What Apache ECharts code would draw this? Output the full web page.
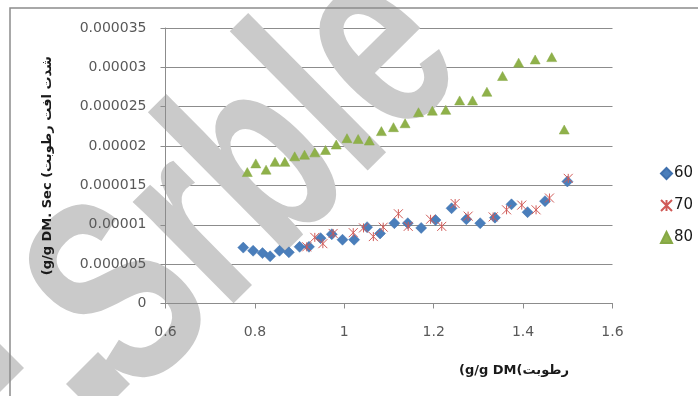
<!DOCTYPE html>
<html>
<head>
<meta charset="utf-8">
<script src="https://cdn.jsdelivr.net/npm/echarts@6/dist/echarts.min.js"></script>
<style>
  html, body { margin: 0; padding: 0; background: #ffffff; }
  #chart { width: 698px; height: 396px; }
</style>
</head>
<body>
<div id="chart"></div>
<script>
// Moisture content (g/g DM) for each drying temperature
const x60 = [0.774, 0.796, 0.817, 0.834, 0.855, 0.876, 0.900, 0.921, 0.947, 0.972, 0.996, 1.022, 1.051, 1.080, 1.112, 1.142, 1.172, 1.204, 1.240, 1.273, 1.304, 1.337, 1.374, 1.410, 1.449, 1.499];
// Drying rate (g/g DM. Sec) at 60
const y60 = [7.1e-6, 6.7e-6, 6.4e-6, 6.0e-6, 6.7e-6, 6.5e-6, 7.2e-6, 7.2e-6, 8.3e-6, 8.8e-6, 8.1e-6, 8.1e-6, 9.7e-6, 8.9e-6, 10.2e-6, 10.2e-6, 9.6e-6, 10.6e-6, 12.1e-6, 10.7e-6, 10.2e-6, 10.9e-6, 12.6e-6, 11.6e-6, 13.0e-6, 15.5e-6];

const x70 = [0.916, 0.934, 0.952, 0.975, 1.020, 1.043, 1.065, 1.087, 1.121, 1.143, 1.193, 1.218, 1.248, 1.277, 1.333, 1.363, 1.397, 1.429, 1.459, 1.501];
const y70 = [7.2e-6, 8.4e-6, 7.6e-6, 8.9e-6, 9.0e-6, 9.6e-6, 8.5e-6, 9.7e-6, 11.4e-6, 9.8e-6, 10.7e-6, 9.8e-6, 12.7e-6, 11.1e-6, 11.0e-6, 11.9e-6, 12.5e-6, 11.9e-6, 13.4e-6, 15.9e-6];

const x80 = [0.783, 0.802, 0.825, 0.845, 0.867, 0.889, 0.911, 0.934, 0.958, 0.982, 1.006, 1.031, 1.056, 1.083, 1.110, 1.136, 1.166, 1.197, 1.227, 1.258, 1.287, 1.319, 1.354, 1.390, 1.427, 1.464, 1.492];
const y80 = [16.7e-6, 17.8e-6, 17.0e-6, 18.0e-6, 18.0e-6, 18.7e-6, 18.9e-6, 19.2e-6, 19.5e-6, 20.2e-6, 21.0e-6, 20.9e-6, 20.7e-6, 21.9e-6, 22.4e-6, 22.9e-6, 24.3e-6, 24.5e-6, 24.6e-6, 25.8e-6, 25.8e-6, 26.9e-6, 28.9e-6, 30.6e-6, 31.0e-6, 31.3e-6, 22.1e-6];

const seriesNames = ['60', '70', '80'];
const yTickLabels = ['0', '0.000005', '0.00001', '0.000015', '0.00002', '0.000025', '0.00003', '0.000035'];
const xTickLabels = ['0.6', '0.8', '1', '1.2', '1.4', '1.6'];

const xTitle = '(g/g DM(' + 'رطوبت';
const yTitle = '(g/g DM. Sec (' + 'شدت افت رطوبت';
const stampText = 'Srble';

const pairs = (xs, ys) => xs.map((v, i) => [v, ys[i]]);

const STAR = 'path://M0,0L10,10M10,0L0,10M5,0L5,10';
const labelColor = '#595959';
const lineColor = '#8c8c8c';
const markGray = '#cacaca';

const X_RANGE = { min: 0.6, max: 1.6, interval: 0.2 };
const Y_RANGE = { min: 0, max: 35e-6, interval: 5e-6 };

// Gray diagonal lettering, drawn above the grid lines and below the axis labels
const lettering = [
  { type: 'text', z: 1, silent: true, x: 250, y: 182, rotation: 0.78, scaleX: 0.92, scaleY: 1.32,
    style: { text: stampText, fontSize: 205, fontFamily: 'Liberation Sans', fontWeight: 'bold',
             fill: markGray, textAlign: 'center', textVerticalAlign: 'middle' } },
  { type: 'polygon', z: 1, silent: true, shape: { points: [[98, 352], [130, 384], [98, 416], [66, 384]] }, style: { fill: markGray } },
  { type: 'polygon', z: 1, silent: true, shape: { points: [[0, 344], [24, 368], [0, 392]] }, style: { fill: markGray } }
];

const chart = echarts.init(document.getElementById('chart'), null, { renderer: 'canvas' });

const nameStyle = { color: '#1a1a1a', fontFamily: 'DejaVu Sans', fontWeight: 'bold', fontSize: 13 };

chart.setOption({
  animation: false,
  backgroundColor: '#ffffff',
  grid: { left: 165.5, right: 85.5, top: 28, bottom: 92.5, containLabel: false },
  xAxis: [
    { // grid layer
      type: 'value', ...X_RANGE, z: 0,
      axisLine: { show: false }, axisTick: { show: false }, axisLabel: { show: false },
      splitLine: { show: false }
    },
    { // axis line, ticks and labels above the lettering
      type: 'value', ...X_RANGE, z: 5, position: 'bottom',
      axisLine: { show: true, onZero: false, lineStyle: { color: lineColor, width: 1 } },
      axisTick: { show: true, length: 5, lineStyle: { color: lineColor } },
      splitLine: { show: false },
      axisLabel: {
        margin: 22, color: labelColor, fontFamily: 'DejaVu Sans', fontSize: 14,
        formatter: v => xTickLabels[Math.round((v - X_RANGE.min) / X_RANGE.interval)]
      },
      name: xTitle, nameLocation: 'middle', nameGap: 61,
      nameTextStyle: Object.assign({ padding: [0, 0, 0, 250] }, nameStyle)
    }
  ],
  yAxis: [
    {
      type: 'value', ...Y_RANGE, z: 0,
      axisLine: { show: false }, axisTick: { show: false }, axisLabel: { show: false },
      splitLine: { show: true, lineStyle: { color: lineColor, width: 1 } }
    },
    {
      type: 'value', ...Y_RANGE, z: 5, position: 'left',
      axisLine: { show: true, onZero: false, lineStyle: { color: lineColor, width: 1 } },
      axisTick: { show: true, length: 5, lineStyle: { color: lineColor } },
      splitLine: { show: false },
      axisLabel: {
        margin: 19, color: labelColor, fontFamily: 'DejaVu Sans', fontSize: 14,
        formatter: v => yTickLabels[Math.round(v / Y_RANGE.interval)]
      },
      name: yTitle, nameLocation: 'middle', nameGap: 111, nameRotate: 90,
      nameTextStyle: nameStyle
    }
  ],
  legend: {
    orient: 'vertical', left: 655, top: 161, itemGap: 17,
    itemWidth: 11, itemHeight: 11,
    textStyle: { color: '#1a1a1a', fontFamily: 'DejaVu Sans', fontSize: 15, padding: [0, 0, 0, -3] },
    data: [
      { name: seriesNames[0], icon: 'diamond' },
      { name: seriesNames[1], icon: STAR },
      { name: seriesNames[2], icon: 'triangle' }
    ]
  },
  graphic: [
    { type: 'rect', z: 100, silent: true, shape: { x: 10, y: 8, width: 720, height: 420 },
      style: { fill: 'none', stroke: '#8c8c8c', lineWidth: 1.5 } }
  ].concat(lettering),
  series: [
    { name: seriesNames[0], type: 'scatter', z: 3, symbol: 'diamond', symbolSize: [11, 11],
      itemStyle: { color: '#4a7ebb', borderColor: '#3f70ad', borderWidth: 0.5, opacity: 1 },
      data: pairs(x60, y60) },
    { name: seriesNames[1], type: 'scatter', z: 4, symbol: STAR, symbolSize: [9, 9],
      itemStyle: { color: '#d05a57', borderColor: '#d05a57', borderWidth: 1, opacity: 1 },
      data: pairs(x70, y70) },
    { name: seriesNames[2], type: 'scatter', z: 3, symbol: 'triangle', symbolSize: [10, 9],
      itemStyle: { color: '#8fb14a', borderColor: '#86a845', borderWidth: 0.5, opacity: 1 },
      data: pairs(x80, y80) }
  ]
});
</script>
</body>
</html>
